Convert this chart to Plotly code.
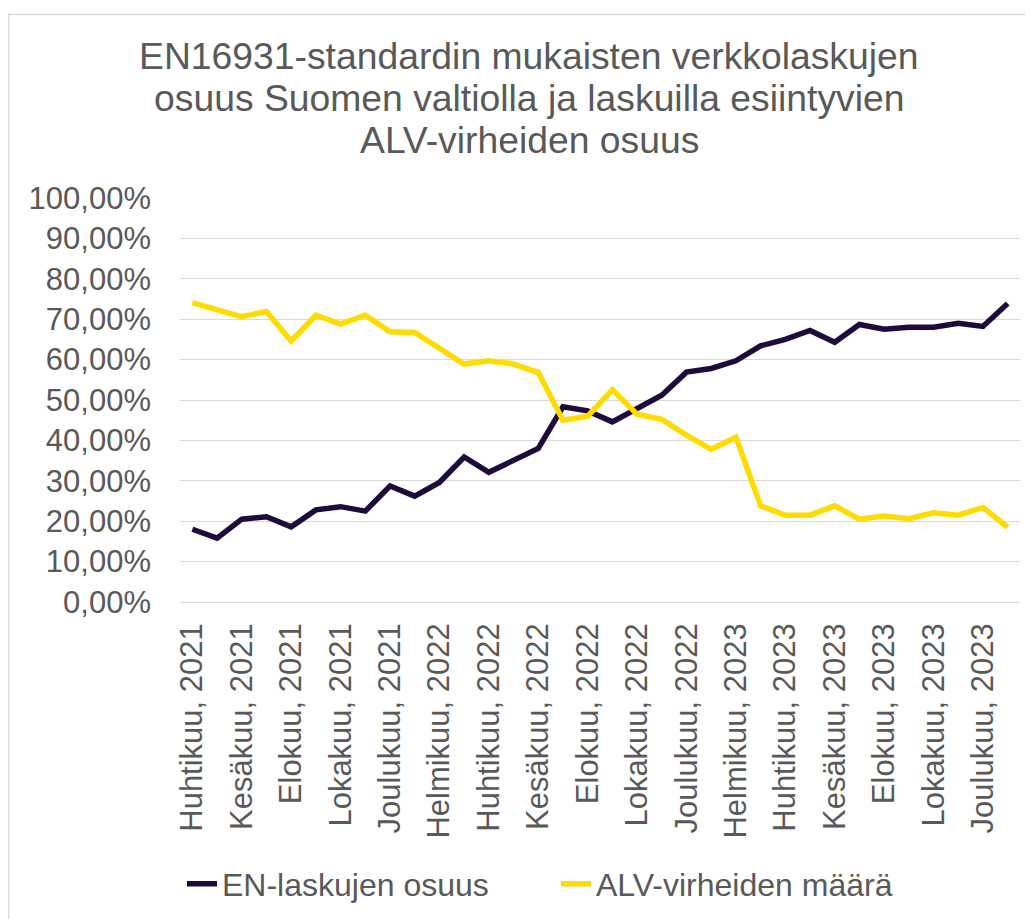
import plotly.graph_objects as go

full_months = ["Tammikuu", "Helmikuu", "Maaliskuu", "Huhtikuu", "Toukokuu", "Kesäkuu",
               "Heinäkuu", "Elokuu", "Syyskuu", "Lokakuu", "Marraskuu", "Joulukuu"]
# Huhtikuu 2021 .. Tammikuu 2024 (34 months)
categories = [f"{full_months[(3 + k) % 12]}, {2021 + (3 + k) // 12}" for k in range(34)]

en_share = [18.0, 15.8, 20.5, 21.1, 18.6, 22.8, 23.6, 22.5, 28.7, 26.2, 29.6, 35.9,
            32.1, 34.9, 38.0, 48.3, 47.3, 44.6, 47.9, 51.2, 56.9, 57.8, 59.7, 63.4,
            65.0, 67.2, 64.3, 68.7, 67.5, 68.0, 68.0, 69.0, 68.2, 73.9]
alv_errors = [74.1, 72.4, 70.6, 71.9, 64.6, 71.0, 68.8, 71.0, 66.9, 66.7, 62.8, 58.9,
              59.7, 58.9, 56.8, 45.0, 46.0, 52.5, 46.5, 45.2, 41.3, 37.8, 40.8, 23.8,
              21.5, 21.5, 23.8, 20.5, 21.3, 20.6, 22.1, 21.5, 23.4, 18.5]

tick_labels = categories[::2]
title_lines = ["EN16931-standardin mukaisten verkkolaskujen",
               "osuus Suomen valtiolla ja laskuilla esiintyvien",
               "ALV-virheiden osuus"]

TXT = "#595959"
FONT = "Liberation Sans, Arial, sans-serif"

fig = go.Figure()
fig.add_trace(go.Scatter(x=categories, y=[v / 100 for v in en_share], mode="lines",
                         name="EN-laskujen osuus",
                         line=dict(color="#1e0b3c", width=5.5)))
fig.add_trace(go.Scatter(x=categories, y=[v / 100 for v in alv_errors], mode="lines",
                         name="ALV-virheiden määrä",
                         line=dict(color="#ffdc00", width=5.5)))

# page body has an 8px margin, so the figure is 8px smaller and all coords shifted by 8
OFF = 8
W, H = 1033 - OFF, 919 - OFF
L, R, T = 180 - OFF, 13, 198 - OFF
ph = 404
B = H - T - ph
pw = W - L - R

def px(x):  # screen x -> paper x
    return (x - OFF - L) / pw

def py(y):  # screen y -> paper y
    return (T + ph - (y - OFF)) / ph

annots = []
for line, ypix in zip(title_lines, [56, 97.7, 139.7]):
    annots.append(dict(text=line, x=px(529), y=py(ypix), xref="paper", yref="paper",
                       xanchor="center", yanchor="middle", showarrow=False,
                       font=dict(size=37.3, color=TXT, family=FONT)))

fig.update_layout(
    width=W, height=H,
    margin=dict(l=L, r=R, t=T, b=B, autoexpand=False),
    paper_bgcolor="white", plot_bgcolor="white",
    separators=", ",
    font=dict(family=FONT, color=TXT, size=31),
    showlegend=True,
    legend=dict(orientation="h", x=px(182), y=py(884), xanchor="left", yanchor="middle",
                font=dict(size=32, color=TXT), entrywidth=329, entrywidthmode="pixels",
                bgcolor="rgba(0,0,0,0)"),
    annotations=annots,
    shapes=[dict(type="rect", xref="paper", yref="paper",
                 x0=px(8.5), x1=px(1050), y0=py(940), y1=py(14.5),
                 line=dict(color="#d9d9d9", width=1.5), fillcolor="rgba(0,0,0,0)",
                 layer="below")],
)
fig.update_xaxes(type="category", range=[-0.5, 33.5], tickvals=tick_labels,
                 ticktext=tick_labels, tickangle=-90, showgrid=False, showline=False,
                 ticks="", tickfont=dict(size=31, color=TXT), ticklabelstandoff=14,
                 automargin=False)
fig.update_yaxes(range=[0, 1], dtick=0.1, tick0=0, tickformat=".2%",
                 showgrid=True, gridcolor="#d9d9d9", gridwidth=1.3,
                 zeroline=True, zerolinecolor="#d9d9d9", zerolinewidth=1.3,
                 showline=False, ticks="", tickfont=dict(size=31, color=TXT),
                 ticklabelstandoff=28, automargin=False)

fig.write_html("out.html")
